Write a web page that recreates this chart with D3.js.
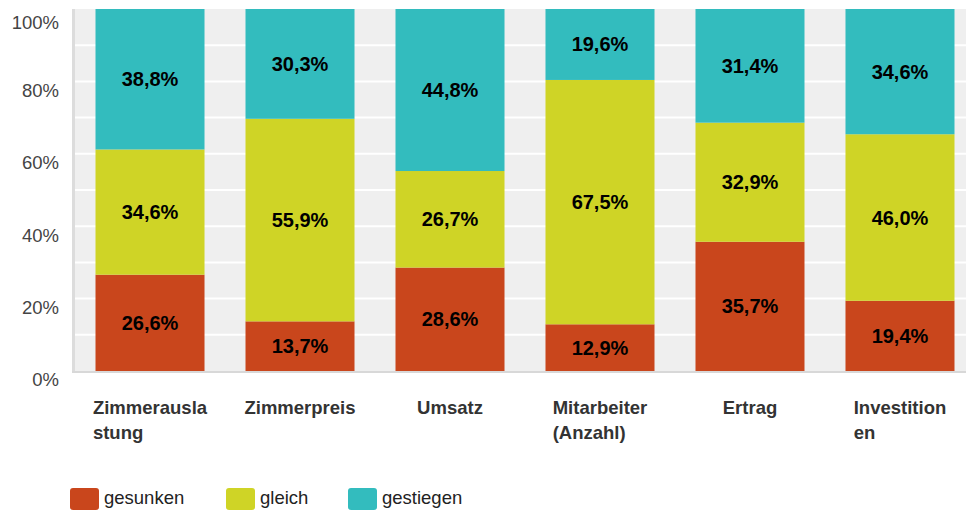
<!DOCTYPE html>
<html>
<head>
    <script src="https://cdn.jsdelivr.net/npm/d3@7"></script>
    <style>
        body { margin: 0; background: #fff; font-family: "Liberation Sans", Arial, sans-serif; }
    </style>
</head>
<body>
<div id="chart"></div>
<script>
    // data
    var categories = ["Zimmerauslastung", "Zimmerpreis", "Umsatz", "Mitarbeiter (Anzahl)", "Ertrag", "Investitionen"];
    var categoryLines = [["Zimmerausla", "stung"], ["Zimmerpreis"], ["Umsatz"], ["Mitarbeiter", "(Anzahl)"], ["Ertrag"], ["Investition", "en"]];
    var seriesNames = ["gesunken", "gleich", "gestiegen"];
    var gesunken = [26.6, 13.7, 28.6, 12.9, 35.7, 19.4];
    var gleich = [34.6, 55.9, 26.7, 67.5, 32.9, 46.0];
    var gestiegen = [38.8, 30.3, 44.8, 19.6, 31.4, 34.6];
    var yTicks = [0, 0.2, 0.4, 0.6, 0.8, 1];
    var colors = ["#c9461c", "#cfd426", "#33bcbe"];

    var width = 966, height = 512;
    var svg = d3.select("#chart").append("svg")
        .attr("width", width).attr("height", height);

    var rows = categories.map(function (c, i) {
        return { cat: c, gesunken: gesunken[i], gleich: gleich[i], gestiegen: gestiegen[i] };
    });
    var stacked = d3.stack().keys(seriesNames).offset(d3.stackOffsetExpand)(rows);

    var x = d3.scaleBand().domain(categories).range([75, 975]).paddingInner(0.2733).paddingOuter(0.1367);
    var y = d3.scaleLinear().domain([0, 1]).range([371, 9]);

    // plot background
    svg.append("rect").attr("x", 75).attr("y", 9).attr("width", 900).attr("height", 362).attr("fill", "#efefef");
    svg.append("line").attr("x1", 73.5).attr("x2", 73.5).attr("y1", 9).attr("y2", 372).attr("stroke", "#dcdcdc").attr("stroke-width", 3);
    svg.append("line").attr("x1", 72).attr("x2", 966).attr("y1", 372).attr("y2", 372).attr("stroke", "#d8d8d8").attr("stroke-width", 2);

    // grid every 10%
    svg.append("g").selectAll("line").data(d3.range(1, 10).map(function (d) { return d / 10; }))
        .join("line")
        .attr("x1", 75).attr("x2", 966)
        .attr("y1", function (d) { return y(d); }).attr("y2", function (d) { return y(d); })
        .attr("stroke", "#fff").attr("stroke-width", 2);

    // y axis labels (sit a little below their grid line)
    var yAxis = d3.axisLeft(y).tickValues(yTicks).tickFormat(d3.format(".0%")).tickSize(0).tickPadding(0);
    var ya = svg.append("g").attr("transform", "translate(59,9)").call(yAxis);
    ya.select(".domain").remove();
    ya.selectAll("text").attr("font-size", 18.5).attr("fill", "#444").attr("font-family", "Liberation Sans, Arial, sans-serif");
    ya.selectAll(".tick").filter(function (d) { return d === 1; }).select("text").attr("dy", "0.55em");

    // bars
    var groups = svg.append("g").selectAll("g").data(stacked).join("g")
        .attr("fill", function (d, i) { return colors[i]; });
    groups.selectAll("rect").data(function (d) { return d; }).join("rect")
        .attr("x", function (d) { return x(d.data.cat); })
        .attr("width", x.bandwidth())
        .attr("y", function (d) { return y(d[1]); })
        .attr("height", function (d) { return y(d[0]) - y(d[1]); });

    // value labels
    var fmt = function (v) { return v.toFixed(1).replace(".", ",") + "%"; };
    stacked.forEach(function (s) {
        svg.append("g").selectAll("text").data(s).join("text")
            .attr("x", function (d) { return x(d.data.cat) + x.bandwidth() / 2; })
            .attr("y", function (d) { return (y(d[0]) + y(d[1])) / 2; })
            .attr("dy", "0.35em")
            .attr("text-anchor", "middle")
            .attr("font-size", 20).attr("font-weight", "bold").attr("fill", "#000")
            .text(function (d) { return fmt(d.data[s.key]); });
    });

    // category labels: left-aligned block, centred under the bar
    categories.forEach(function (c, i) {
        var g = svg.append("g");
        var lines = categoryLines[i];
        var texts = lines.map(function (l, j) {
            return g.append("text").attr("y", 414 + j * 25)
                .attr("font-size", 18.5).attr("font-weight", "bold").attr("fill", "#333")
                .text(l);
        });
        var maxW = d3.max(texts, function (t) { return t.node().getComputedTextLength(); });
        var left = x(c) + x.bandwidth() / 2 - maxW / 2;
        texts.forEach(function (t) { t.attr("x", left); });
    });

    // legend
    var legendX = [70, 226, 348];
    var lg = svg.append("g").selectAll("g").data(seriesNames).join("g")
        .attr("transform", function (d, i) { return "translate(" + legendX[i] + ",488)"; });
    lg.append("rect").attr("width", 29).attr("height", 22).attr("rx", 3)
        .attr("fill", function (d, i) { return colors[i]; });
    lg.append("text").attr("x", 34).attr("y", 10).attr("dy", "0.35em")
        .attr("font-size", 18.5).attr("fill", "#222").text(function (d) { return d; });
</script>
</body>
</html>
